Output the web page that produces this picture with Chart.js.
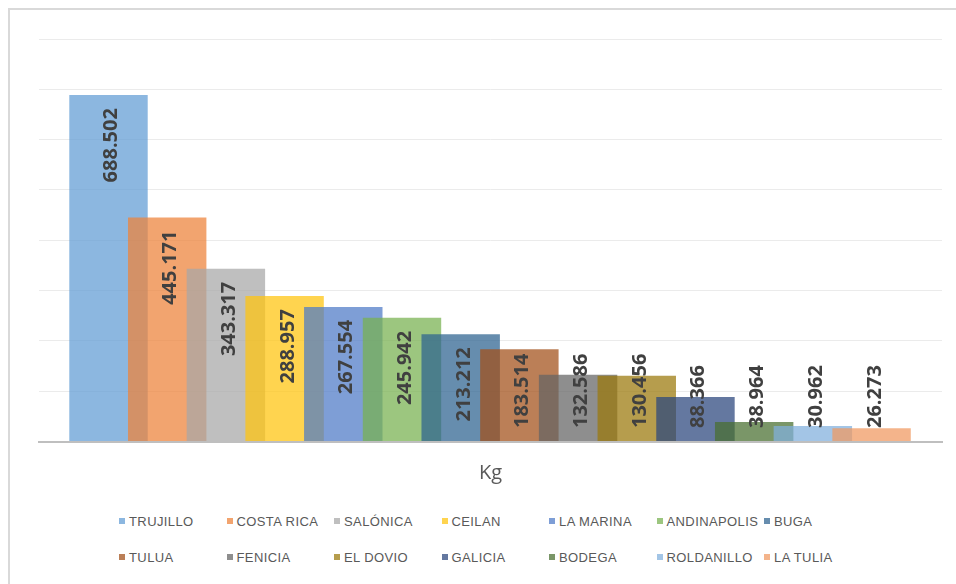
<!DOCTYPE html>
<html>
<head>
<meta charset="utf-8">
<script src="https://cdn.jsdelivr.net/npm/chart.js@4.4.1/dist/chart.umd.min.js"></script>
<style>
  html, body { margin: 0; padding: 0; background: #fff; }
  body { width: 956px; height: 584px; overflow: hidden; position: relative; }
  .frame {
    position: absolute; left: 8px; top: 8px; width: 1000px; height: 700px;
    border-left: 2px solid #d9d9d9; border-top: 2px solid #d9d9d9;
  }
  #kgChart { position: absolute; left: 0; top: 0; }
  .legend {
    position: absolute; left: 119px; top: 511px;
    display: grid; grid-template-columns: repeat(7, 107.5px); row-gap: 16px;
    font-family: "Liberation Sans", Arial, sans-serif; font-size: 13px; color: #595959;
    letter-spacing: 0.4px;
  }
  .legend-item { display: flex; align-items: center; height: 20px; white-space: nowrap; }
  .legend-item .sw { width: 6px; height: 6px; margin-right: 4px; flex: none; }
</style>
</head>
<body>
<div class="frame"></div>
<canvas id="kgChart" width="956" height="490"></canvas>
<div class="legend" id="legend"></div>

<script>
// ===================== Data =====================
const cities = ['TRUJILLO', 'COSTA RICA', 'SALÓNICA', 'CEILAN', 'LA MARINA', 'ANDINAPOLIS', 'BUGA',
  'TULUA', 'FENICIA', 'EL DOVIO', 'GALICIA', 'BODEGA', 'ROLDANILLO', 'LA TULIA'];
const kg = [688502, 445171, 343317, 288957, 267554, 245942, 213212,
  183514, 132586, 130456, 88366, 38964, 30962, 26273];
const category = 'Kg';

// semi-transparent fills, later series are drawn over earlier ones
const colors = [
  'rgba(97,156,213,0.73)', 'rgba(237,130,58,0.73)', 'rgba(167,167,167,0.73)', 'rgba(255,196,14,0.73)',
  'rgba(78,122,199,0.73)', 'rgba(119,177,80,0.73)', 'rgba(45,99,144,0.73)', 'rgba(162,80,24,0.73)',
  'rgba(100,100,100,0.73)', 'rgba(155,121,11,0.73)', 'rgba(43,70,125,0.73)', 'rgba(73,111,48,0.73)',
  'rgba(129,176,221,0.73)', 'rgba(240,152,96,0.73)'
];

function fmt(v) {
  return String(v).replace(/\B(?=(\d{3})+(?!\d))/g, '.');
}

// ===================== Value labels =====================
const barLabels = {
  id: 'barLabels',
  afterDatasetsDraw(chart) {
    const ctx = chart.ctx;
    ctx.save();
    ctx.font = 'bold 20px "Open Sans", sans-serif';
    ctx.fillStyle = '#404040';
    ctx.textAlign = 'right';
    ctx.textBaseline = 'alphabetic';
    chart.data.datasets.forEach(function (ds, i) {
      const bar = chart.getDatasetMeta(i).data[0];
      const text = fmt(ds.data[0].y);
      const w = ctx.measureText(text).width;
      let top = bar.y + 13;
      if (top + w > bar.base - 13) top = bar.base - 13 - w;
      ctx.save();
      ctx.translate(bar.x, top);
      ctx.rotate(-Math.PI / 2);
      ctx.fillText(text, 0, 9);
      ctx.restore();
    });
    ctx.restore();
  }
};

// ===================== Chart =====================
const chart = new Chart(document.getElementById('kgChart'), {
  type: 'bar',
  data: {
    datasets: cities.map(function (name, i) {
      return {
        label: name,
        data: [{ x: i, y: kg[i] }],
        backgroundColor: colors[i],
        borderWidth: 0,
        order: cities.length - 1 - i
      };
    })
  },
  options: {
    responsive: false,
    animation: false,
    events: [],
    layout: { padding: { left: 39, right: 14, top: 39, bottom: 0 } },
    datasets: { bar: { grouped: false, categoryPercentage: 1, barPercentage: 1.336 } },
    scales: {
      x: {
        type: 'linear',
        min: -1.184,
        max: 14.2,
        offset: false,
        z: 1,
        ticks: { display: false, stepSize: 1, includeBounds: false },
        grid: { display: false, drawTicks: false },
        border: { display: true, color: '#bfbfbf', width: 2 },
        title: {
          display: true,
          text: category,
          color: '#595959',
          font: { family: '"Open Sans", sans-serif', size: 20 },
          padding: { top: 19.5, bottom: 5 }
        }
      },
      y: {
        min: 0,
        max: 800000,
        ticks: { display: false, stepSize: 100000 },
        grid: { color: '#ebebeb', lineWidth: 1, drawTicks: false },
        border: { display: false }
      }
    },
    plugins: {
      legend: { display: false },
      tooltip: { enabled: false }
    }
  },
  plugins: [barLabels]
});

// ===================== HTML legend =====================
(function () {
  const box = document.getElementById('legend');
  chart.data.datasets.forEach(function (ds) {
    const item = document.createElement('div');
    item.className = 'legend-item';
    const sw = document.createElement('span');
    sw.className = 'sw';
    sw.style.background = ds.backgroundColor;
    item.appendChild(sw);
    item.appendChild(document.createTextNode(ds.label));
    box.appendChild(item);
  });
})();
</script>
</body>
</html>
